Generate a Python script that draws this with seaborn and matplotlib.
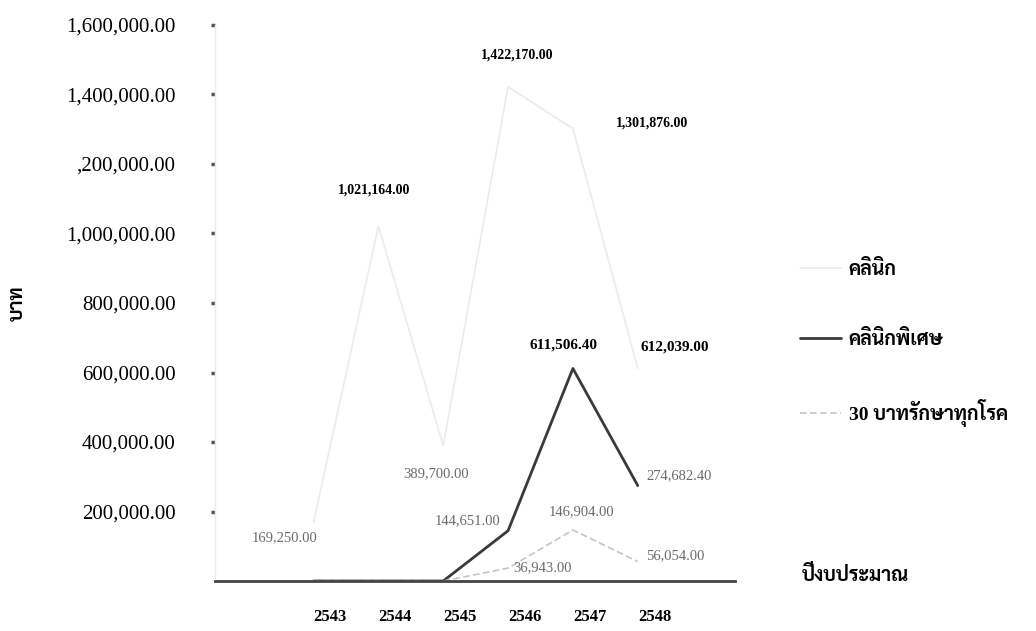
import matplotlib
matplotlib.use("Agg")
import numpy as np
import pandas as pd
import seaborn as sns
import matplotlib.pyplot as plt
from matplotlib import font_manager

years = [2543, 2544, 2545, 2546, 2547, 2548]
clinic = [169250.00, 1021164.00, 389700.00, 1422170.00, 1301876.00, 612039.00]
special = [0, 0, 0, 144651.00, 611506.40, 274682.40]
baht30 = [0, 0, 0, 36943.00, 146904.00, 56054.00]
names = ["คลินิก", "คลินิกพิเศษ", "30 บาทรักษาทุกโรค"]
ytick_vals = [200000, 400000, 600000, 800000, 1000000, 1200000, 1400000, 1600000]
ytick_text = ["200,000.00", "400,000.00", "600,000.00", "800,000.00",
              "1,000,000.00", ",200,000.00", "1,400,000.00", "1,600,000.00"]

# pick a thai font that is installed
installed = {f.name for f in font_manager.fontManager.ttflist}
thai = "DejaVu Sans"
for cand in ["Sarabun", "Noto Sans Thai", "Noto Sans Thai Looped", "Taviraj", "Athiti"]:
    if cand in installed:
        thai = cand
        break

sns.set_style("white")
plt.rcParams['font.family'] = ['Liberation Serif', thai]

df = pd.DataFrame({"year": years * 3,
                   "value": clinic + special + baht30,
                   "series": [names[0]] * 6 + [names[1]] * 6 + [names[2]] * 6})

fig = plt.figure(figsize=(10.36, 6.31), dpi=100)
ax = fig.add_axes([215 / 1036, 1 - 581 / 631, 520 / 1036, 556 / 631])

sns.lineplot(data=df, x="year", y="value", hue="series", style="series",
             palette=["#ebebeb", "#3a3a3a", "#c4c4c4"],
             dashes=[(None, None), (None, None), (4, 2)],
             size="series", sizes=[1.2, 2.0, 1.2], ax=ax, legend=False)

# value labels: (text offset in points, bold?)
gray = "#6a6a6a"
clinic_off = [(-21, -11.5), (-3, 26), (-5, -20), (6.5, 23), (57, 4), (27, 15)]
clinic_bold = [False, True, False, True, True, True]
special_off = [(-29.5, 7), (-6.5, 17), (30, 7)]
special_bold = [False, True, False]
baht_off = [(25, 0), (6, 13), (27, 4)]


def put(x, v, off, bold, big=False):
    ax.annotate(f"{v:,.2f}", (x, v), xytext=off, textcoords="offset points",
                ha="center", va="center",
                fontsize=(11 if big else 10) if bold else 10.5,
                fontweight="bold" if bold else "normal",
                color="black" if bold else gray, annotation_clip=False)


for i, (x, v) in enumerate(zip(years, clinic)):
    put(x, v, clinic_off[i], clinic_bold[i], big=(i == 5))
for i, (x, v) in enumerate(zip(years[3:], special[3:])):
    put(x, v, special_off[i], special_bold[i], big=special_bold[i])
for i, (x, v) in enumerate(zip(years[3:], baht30[3:])):
    put(x, v, baht_off[i], False)

ax.set_xlim(2541.48, 2549.5)
ax.set_ylim(0, 1600000)
ax.set_xticks([y + 0.26 for y in years])
ax.set_xticklabels([str(y) for y in years], fontsize=12, fontweight="bold", color="black")
ax.tick_params(axis="x", length=0, pad=20)
ax.set_yticks(ytick_vals)
ax.set_yticklabels(ytick_text, fontsize=15, color="black")
ax.tick_params(axis="y", left=True, direction="out", length=3, width=2.5,
               color="#555", pad=25.5)
ax.set_xlabel("")
ax.set_ylabel("บาท", fontsize=14, fontweight="bold", color="black")
ax.yaxis.set_label_coords(-0.362, 0.5)

for s in ["top", "right"]:
    ax.spines[s].set_visible(False)
ax.spines["left"].set_color("#ececec")
ax.spines["left"].set_linewidth(1)
ax.spines["bottom"].set_color("#444")
ax.spines["bottom"].set_linewidth(2)

handles = [plt.Line2D([], [], color="#ebebeb", lw=1.2),
           plt.Line2D([], [], color="#3a3a3a", lw=2),
           plt.Line2D([], [], color="#c4c4c4", lw=1.2, ls=(0, (4, 2)))]
fig.legend(handles, names, loc="upper left", bbox_to_anchor=(800 / 1036, 1 - 260 / 631),
           frameon=False, prop={"weight": "bold", "size": 14},
           handlelength=2.1, handletextpad=0.4, labelspacing=2.6,
           borderpad=0, borderaxespad=0, labelcolor="black")
fig.text(802 / 1036, 1 - 575 / 631, "ปีงบประมาณ", fontsize=14, fontweight="bold",
         va="center", ha="left", color="black")

fig.savefig("out.png", dpi=100)
